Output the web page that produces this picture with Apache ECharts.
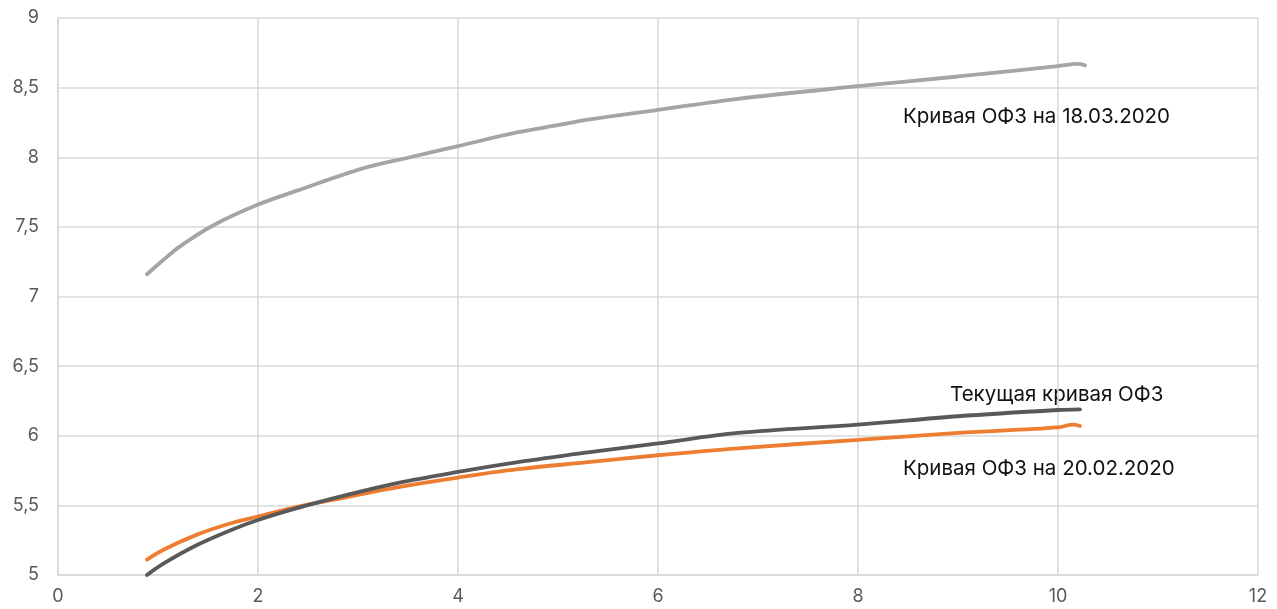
<!DOCTYPE html>
<html>
<head>
<meta charset="utf-8">
<script src="https://cdn.jsdelivr.net/npm/echarts@6/dist/echarts.min.js"></script>
<style>
html,body{margin:0;padding:0;background:#fff;}
#c{width:1277px;height:609px;}
</style>
</head>
<body>
<div id="c"></div>
<script>
// Curve 18.03.2020 (light gray)
const x18 = [0.89, 1.05, 1.22, 1.55, 2.0, 2.39, 3.05, 3.52, 4.0, 4.6, 5.0, 5.3, 6.0, 6.8, 8.0, 9.0, 10.0, 10.2, 10.27];
const y18 = [7.16, 7.26, 7.36, 7.51, 7.66, 7.76, 7.92, 8.00, 8.08, 8.18, 8.23, 8.27, 8.34, 8.42, 8.51, 8.58, 8.655, 8.67, 8.66];
// Current curve (dark gray)
const xCur = [0.89, 1.05, 1.39, 1.72, 2.0, 2.39, 2.89, 3.39, 4.0, 4.6, 5.3, 6.0, 6.8, 8.0, 9.0, 10.0, 10.22];
const yCur = [5.00, 5.08, 5.215, 5.32, 5.395, 5.48, 5.575, 5.66, 5.74, 5.81, 5.88, 5.945, 6.02, 6.08, 6.14, 6.185, 6.19];
// Curve 20.02.2020 (orange)
const x20 = [0.89, 1.05, 1.39, 1.72, 2.0, 2.39, 2.89, 3.39, 4.0, 4.6, 5.3, 6.0, 6.8, 8.0, 9.0, 10.0, 10.15, 10.22];
const y20 = [5.11, 5.18, 5.29, 5.37, 5.42, 5.49, 5.56, 5.63, 5.70, 5.76, 5.81, 5.86, 5.91, 5.97, 6.02, 6.06, 6.08, 6.07];

const labels = [
  {text: 'Кривая ОФЗ на 18.03.2020', left: 903, top: 106},
  {text: 'Текущая кривая ОФЗ', left: 950, top: 384},
  {text: 'Кривая ОФЗ на 20.02.2020', left: 903, top: 458}
];

const zip = (xs, ys) => xs.map((x, i) => [x, ys[i]]);
const chart = echarts.init(document.getElementById('c'));
const gridColor = '#d9d9d9';
const lineSeries = (data, color) => ({
  type: 'line', data: data, smooth: 0.35, showSymbol: false, symbol: 'none',
  lineStyle: {color: color, width: 3.8, cap: 'round'}, itemStyle: {color: color}
});
chart.setOption({
  animation: false,
  textStyle: {fontFamily: 'Inter, Roboto, sans-serif'},
  grid: {left: 58, right: 19, top: 18, bottom: 34},
  xAxis: {
    type: 'value', min: 0, max: 12, interval: 2,
    axisLine: {show: true, lineStyle: {color: gridColor, width: 1.5}},
    axisTick: {show: false},
    splitLine: {show: true, lineStyle: {color: gridColor, width: 1.5}},
    axisLabel: {color: '#595959', fontSize: 18, margin: 13, fontFamily: 'Inter, sans-serif'}
  },
  yAxis: {
    type: 'value', min: 5, max: 9, interval: 0.5,
    axisLine: {show: true, lineStyle: {color: gridColor, width: 1.5}},
    axisTick: {show: false},
    splitLine: {show: true, lineStyle: {color: gridColor, width: 1.5}},
    axisLabel: {color: '#595959', fontSize: 18, margin: 19, fontFamily: 'Inter, sans-serif',
      formatter: v => String(v).replace('.', ',')}
  },
  series: [
    lineSeries(zip(x18, y18), '#a5a5a5'),
    lineSeries(zip(x20, y20), '#ed7d31'),
    lineSeries(zip(xCur, yCur), '#595959')
  ],
  graphic: labels.map(l => ({
    type: 'text', left: l.left, top: l.top,
    style: {text: l.text, fill: '#111111', font: '20.5px Inter, sans-serif'}
  }))
});
</script>
</body>
</html>
